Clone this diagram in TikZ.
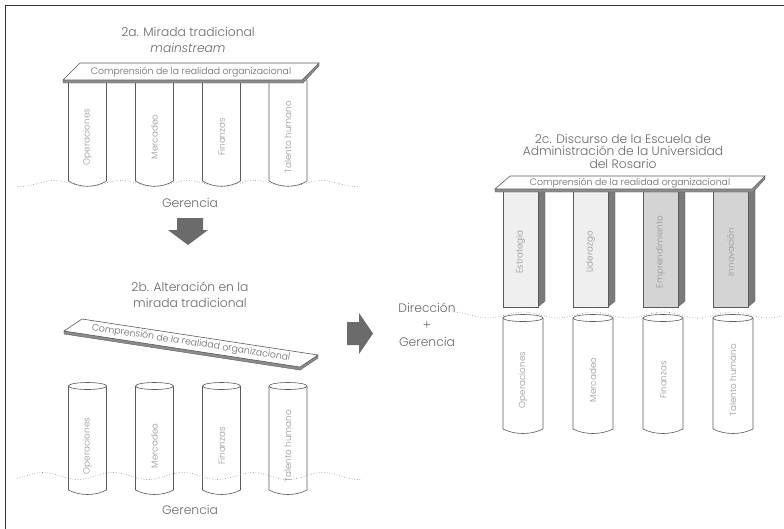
\documentclass[tikz,border=0pt]{standalone}
\usepackage{fontspec}
\IfFontExistsTF{Poppins Light}{%
  \IfFontExistsTF{Poppins Light Italic}{%
    \setmainfont{Poppins Light}[ItalicFont={Poppins Light Italic}]}{%
    \setmainfont{Poppins Light}}}{%
  \setmainfont{Poppins}}
\definecolor{linegray}{HTML}{5A5A5A}
\definecolor{titlegray}{HTML}{686868}
\definecolor{labelgray}{HTML}{959595}
\definecolor{arrowgray}{HTML}{6B6B6B}
\definecolor{sidegray}{HTML}{7A7A7A}
\definecolor{lightface}{HTML}{EFEFEF}
\definecolor{midface}{HTML}{D4D4D4}
\definecolor{thickgray}{HTML}{8C8C8C}
\begin{document}
\begin{tikzpicture}[x=1pt,y=-1pt,
  outline/.style={draw=linegray,line width=0.6pt},
  wave/.style={draw=gray,dotted,line width=0.6pt},
  lbl/.style={font=\fontsize{8.8}{10}\selectfont,text=labelgray,rotate=90,inner sep=0pt},
  ttl/.style={font=\fontsize{12.3}{16}\selectfont,text=titlegray,align=center,inner sep=0pt},
  pltext/.style={font=\fontsize{9.3}{11}\selectfont,text=titlegray,inner sep=0pt},
  blockarrow/.style={fill=arrowgray,draw=none},
  slab/.style={fill=thickgray,draw=linegray,line width=0.4pt},
  topface/.style={fill=white,draw=linegray,line width=0.6pt}]
\useasboundingbox (0,0) rectangle (784,528);
% frame
\draw[line width=0.8pt,draw=black!80] (5,530) -- (5,5) -- (790,5);

%================ 2a =================
\node[ttl] (t2a) at (188,32) {2a. Mirada tradicional};
\node[ttl,font=\fontsize{12.3}{14}\itshape] (t2am) at (188,48) {mainstream};
% columns
\foreach \cx/\nm/\txt in {87.5/a1/Operaciones,154.5/a2/Mercadeo,221.5/a3/Finanzas,288/a4/Talento humano}{
  \draw[outline,fill=white] (\cx-19,80) -- (\cx-19,181) .. controls (\cx-8,188) and (\cx+8,188) .. (\cx+19,181) -- (\cx+19,80);
  \node[lbl] (\nm) at (\cx,137) {\txt};
}
% plank
\fill[slab] (63,80) -- (302,80) -- (319,63) -- (319,66) -- (303,83) -- (63,83) -- cycle;
\draw[topface] (80,63) -- (319,63) -- (302,80) -- (63,80) -- cycle;
\node[pltext] (p2a) at (191,72) {Comprensión de la realidad organizacional};
% wave
\draw[wave] plot[domain=18:360,samples=120] (\x,{183.5+3*cos((\x-87.5)/67*360)});
\node[ttl] (g2a) at (190,203) {Gerencia};
% down arrow
\fill[blockarrow] (177,218) -- (203,218) -- (203,230) -- (208,230) -- (188,245) -- (168,230) -- (177,230) -- cycle;

%================ 2b =================
\node[ttl] (t2b) at (190,295) {2b. Alteración en la\\mirada tradicional};
% tilted plank
\fill[slab] (64,331) -- (300,367) -- (318,355) -- (318,358) -- (300,370) -- (64,334) -- cycle;
\draw[topface] (82,319) -- (318,355) -- (300,367) -- (64,331) -- cycle;
\node[pltext,rotate=-8.6] (p2b) at (191,343) {Comprensión de la realidad organizacional};
% cylinders
\foreach \cx/\nm/\txt in {87.5/b1/Operaciones,154.5/b2/Mercadeo,221.5/b3/Finanzas,288/b4/Talento humano}{
  \draw[outline,fill=white] (\cx-19,386) -- (\cx-19,490) .. controls (\cx-8,496) and (\cx+8,496) .. (\cx+19,490) -- (\cx+19,386);
  \draw[outline,fill=white] (\cx,386) ellipse [x radius=19,y radius=3.5];
  \node[lbl] (\nm) at (\cx,446) {\txt};
}
\draw[wave] plot[domain=17:360,samples=120] (\x,{476-3.5*cos((\x-43)/70*360)});
\node[ttl] (g2b) at (190,510) {Gerencia};
% right arrow
\fill[blockarrow] (347,322) -- (359,322) -- (359,313) -- (373,333.5) -- (359,354) -- (359,345) -- (347,345) -- cycle;

%================ 2c =================
\node[ttl,font=\fontsize{12.3}{12.5}\selectfont] (t2c) at (623,151) {2c. Discurso de la Escuela de\\Administración de la Universidad\\del Rosario};
% prisms
\foreach \fx/\col/\nm/\txt in {503/lightface/c1/Estrategia,573/lightface/c2/Liderazgo,643/midface/c3/Emprendimiento,713/midface/c4/Innovación}{
  \fill[sidegray,draw=linegray,line width=0.4pt] (\fx+35,190) -- (\fx+42,190) -- (\fx+42,301) -- (\fx+35,307) -- cycle;
  \draw[outline,fill=\col] (\fx,190) rectangle (\fx+35,307);
  \node[lbl] (\nm) at (\fx+17.5,252) {\txt};
}
% plank
\fill[slab] (495,189) -- (752,189) -- (765,176) -- (765,179) -- (753,192) -- (495,192) -- cycle;
\draw[topface] (510,176) -- (765,176) -- (752,189) -- (495,189) -- cycle;
\node[pltext] (p2c) at (630,183) {Comprensión de la realidad organizacional};
% cylinders
\foreach \cx/\nm/\txt in {523/d1/Operaciones,593/d2/Mercadeo,663/d3/Finanzas,733/d4/Talento humano}{
  \draw[outline,fill=white] (\cx-20,318) -- (\cx-20,429) .. controls (\cx-8,435) and (\cx+8,435) .. (\cx+20,429) -- (\cx+20,318);
  \draw[outline,fill=white] (\cx,318) ellipse [x radius=20,y radius=3.5];
  \node[lbl] (\nm) at (\cx,380) {\txt};
}
\draw[wave] plot[domain=452:784,samples=120] (\x,{315-3*cos((\x-733)/70*360)});
\node[ttl,font=\fontsize{12.3}{17}\selectfont] (dg) at (427,325) {Dirección\\+\\Gerencia};
\end{tikzpicture}
\end{document}
